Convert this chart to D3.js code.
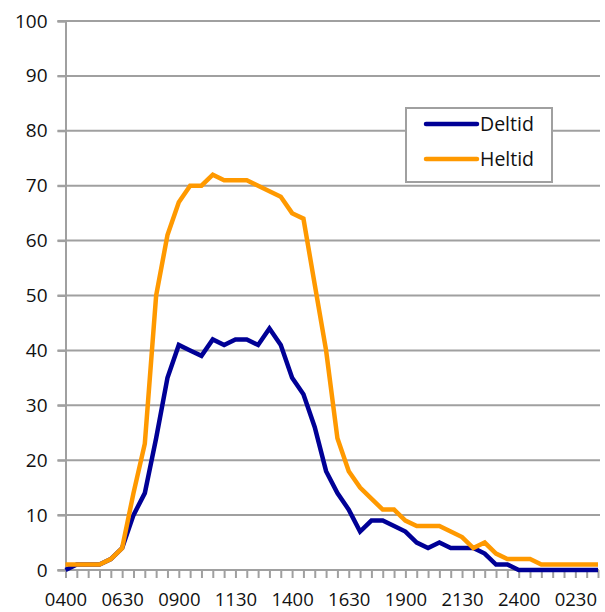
<!DOCTYPE html>
<html><head><meta charset="utf-8">
<script src="https://cdn.jsdelivr.net/npm/d3@7"></script>
<style>body{margin:0;background:#fff}svg{display:block}text{font-family:"Open Sans",sans-serif;fill:#111}</style>
</head><body><svg id="c" width="605" height="612"></svg>
<script>
const times = ["0400","0430","0500","0530","0600","0630","0700","0730","0800","0830","0900","0930","1000","1030","1100","1130","1200","1230","1300","1330","1400","1430","1500","1530","1600","1630","1700","1730","1800","1830","1900","1930","2000","2030","2100","2130","2200","2230","2300","2330","2400","0030","0100","0130","0200","0230","0300","0330"];
const tickLabels = ["0400","0630","0900","1130","1400","1630","1900","2130","2400","0230"];
const deltid = [0,1,1,1,2,4,10,14,24,35,41,40,39,42,41,42,42,41,44,41,35,32,26,18,14,11,7,9,9,8,7,5,4,5,4,4,4,3,1,1,0,0,0,0,0,0,0,0];
const heltid = [1,1,1,1,2,4,14,23,50,61,67,70,70,72,71,71,71,70,69,68,65,64,52,40,24,18,15,13,11,11,9,8,8,8,7,6,4,5,3,2,2,2,1,1,1,1,1,1];
const seriesNames = ["Deltid","Heltid"];
const colors = ["#000096","#FF9900"];
const yTicks = [0,10,20,30,40,50,60,70,80,90,100];

const svg = d3.select("#c");
const L = 65.5, R = 598, T = 21, B = 570;
const x = d3.scalePoint().domain(times).range([L, R]);
const y = d3.scaleLinear().domain([0,100]).range([B, T]);
const grid = "#a0a0a0";

// gridlines
svg.append("g").selectAll("line").data(yTicks.filter(d=>d>0)).join("line")
  .attr("x1", L-8).attr("x2", R+2).attr("y1", d=>y(d)).attr("y2", d=>y(d))
  .attr("stroke", grid).attr("stroke-width", 2);

// y axis
const ya = svg.append("g").attr("transform", `translate(${L},0)`)
  .call(d3.axisLeft(y).tickValues(yTicks).tickSize(8).tickPadding(10));
ya.select(".domain").attr("stroke", grid).attr("stroke-width", 2);
ya.selectAll(".tick line").attr("stroke", grid).attr("stroke-width", 2);
ya.selectAll("text").attr("font-size", 19).attr("fill", "#111").attr("font-family", "Open Sans");

// x axis
const xa = svg.append("g").attr("transform", `translate(0,${B})`)
  .call(d3.axisBottom(x).tickSize(8).tickPadding(15).tickFormat(d => tickLabels.includes(d) && times.indexOf(d) % 5 === 0 ? d : ""));
xa.select(".domain").attr("stroke", grid).attr("stroke-width", 2).attr("d", `M${L-8},0H${R+1}`);
xa.selectAll(".tick line").attr("stroke", grid).attr("stroke-width", 2);
xa.selectAll("text").attr("font-size", 18.5).attr("fill", "#111").attr("font-family", "Open Sans");

// lines
const line = d3.line().x((d,i)=>x(times[i])).y(d=>y(d));
[deltid, heltid].forEach((s, k) => {
  svg.append("path").datum(s).attr("d", line).attr("fill","none")
    .attr("stroke", colors[k]).attr("stroke-width", 4.5).attr("stroke-linejoin","miter");
});

// legend
const lg = svg.append("g");
lg.append("rect").attr("x", 406).attr("y", 108).attr("width", 146).attr("height", 74)
  .attr("fill", "#fff").attr("stroke", grid).attr("stroke-width", 2);
seriesNames.forEach((n, k) => {
  const yy = 124 + k*35;
  lg.append("line").attr("x1", 426).attr("x2", 477).attr("y1", yy).attr("y2", yy)
    .attr("stroke", colors[k]).attr("stroke-width", 4.5).attr("stroke-linecap","round");
  lg.append("text").attr("x", 480).attr("y", yy).attr("dy", "0.35em")
    .attr("font-size", 19.5).text(n);
});
</script></body></html>
